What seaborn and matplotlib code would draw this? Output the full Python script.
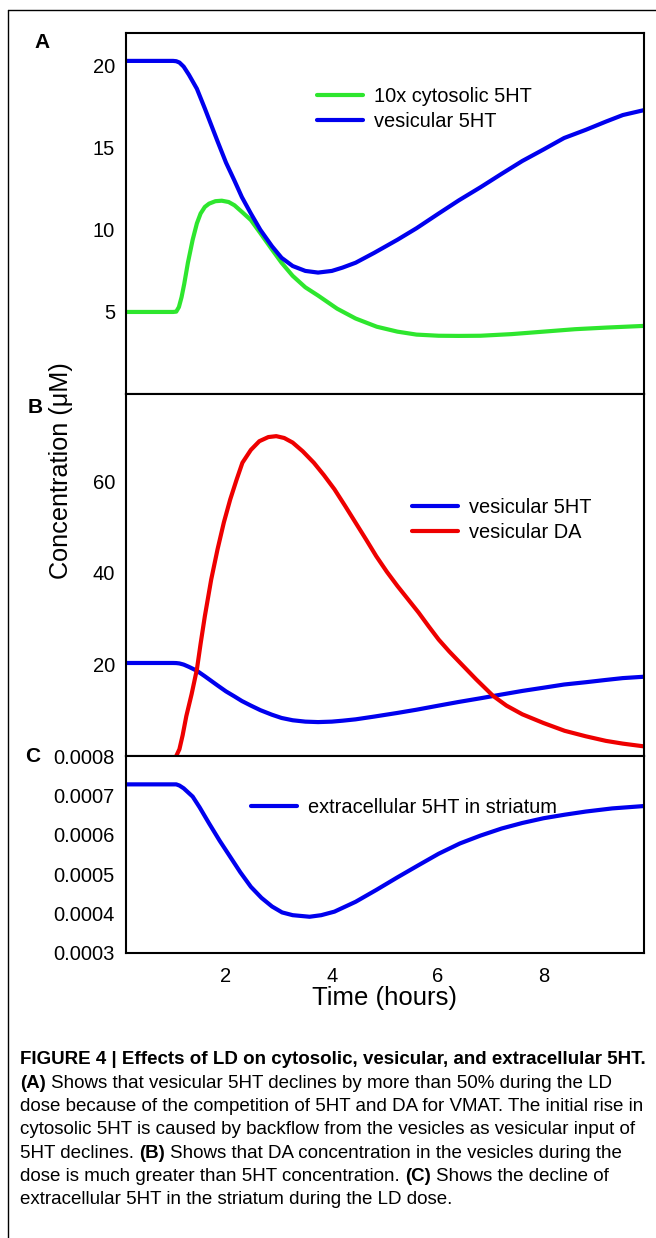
import numpy as np
import pandas as pd
import seaborn as sns
import matplotlib.pyplot as plt
from matplotlib.lines import Line2D
from matplotlib.ticker import FuncFormatter

# --- data -------------------------------------------------------------------
# vesicular 5HT (uM), used in panels A and B
ves_x = [0.1, 0.5, 1.0, 1.06, 1.12, 1.2, 1.3, 1.45, 1.6, 1.84, 2.0, 2.16, 2.3,
         2.47, 2.65, 2.87, 3.05, 3.26, 3.5, 3.74, 4.0, 4.2, 4.45, 4.8, 5.24,
         5.6, 6.02, 6.4, 6.81, 7.2, 7.6, 8.0, 8.39, 8.8, 9.18, 9.5, 9.9]
ves_5ht = [20.3, 20.3, 20.3, 20.28, 20.2, 19.95, 19.45, 18.6, 17.4, 15.4,
           14.1, 13.0, 12.0, 11.0, 10.0, 9.0, 8.3, 7.8, 7.5, 7.4, 7.5, 7.7,
           8.0, 8.6, 9.4, 10.1, 11.0, 11.8, 12.6, 13.4, 14.2, 14.9, 15.6, 16.1,
           16.6, 17.0, 17.3]

# 10x cytosolic 5HT
cyt_x = [0.1, 1.0, 1.06, 1.11, 1.16, 1.21, 1.28, 1.37, 1.45, 1.52, 1.6, 1.68,
         1.8, 1.92, 2.05, 2.16, 2.3, 2.47, 2.65, 2.87, 3.05, 3.26, 3.5, 3.74,
         4.1, 4.45, 4.85, 5.24, 5.6, 6.02, 6.4, 6.81, 7.4, 8.0, 8.6, 9.2, 9.9]
cyt_5ht = [5.0, 5.0, 5.02, 5.3, 5.9, 6.7, 8.0, 9.4, 10.4, 11.0, 11.4, 11.6,
           11.75, 11.78, 11.7, 11.5, 11.1, 10.6, 9.8, 8.8, 8.0, 7.2, 6.5, 6.0,
           5.2, 4.6, 4.1, 3.8, 3.62, 3.55, 3.54, 3.55, 3.65, 3.8, 3.95, 4.05,
           4.15]

# vesicular DA
da_x = [1.06, 1.12, 1.18, 1.25, 1.35, 1.45, 1.52, 1.6, 1.72, 1.84, 1.96, 2.08,
        2.2, 2.31, 2.47, 2.63, 2.8, 2.95, 3.1, 3.26, 3.45, 3.66, 3.85, 4.05,
        4.25, 4.45, 4.65, 4.84, 5.04, 5.24, 5.44, 5.64, 5.83, 6.02, 6.22,
        6.42, 6.73, 7.05, 7.3, 7.6, 8.0, 8.4, 8.8, 9.18, 9.5, 9.9]
ves_da = [0.0, 1.5, 4.5, 8.7, 13.5, 18.9, 24.5, 30.5, 38.5, 45.1, 51.0, 56.0,
          60.3, 64.0, 66.8, 68.7, 69.6, 69.8, 69.4, 68.4, 66.5, 64.0, 61.3,
          58.2, 54.6, 50.9, 47.2, 43.6, 40.2, 37.1, 34.2, 31.3, 28.3, 25.4,
          22.8, 20.4, 16.7, 13.1, 11.0, 9.1, 7.2, 5.5, 4.3, 3.3, 2.7, 2.1]

# extracellular 5HT in striatum
ext_x = [0.1, 1.0, 1.06, 1.12, 1.2, 1.37, 1.5, 1.68, 1.88, 2.08, 2.27, 2.47,
         2.67, 2.87, 3.06, 3.26, 3.58, 3.8, 4.05, 4.45, 4.84, 5.24, 5.64, 6.02,
         6.42, 6.81, 7.21, 7.6, 8.0, 8.4, 8.8, 9.3, 9.9]
ext_5ht = [0.000728, 0.000728, 0.000728, 0.000725, 0.000718, 0.000697,
           0.000670, 0.000629, 0.000585, 0.000544, 0.000505, 0.000468,
           0.000440, 0.000418, 0.000403, 0.000396, 0.000392, 0.000396,
           0.000405, 0.000430, 0.000460, 0.000492, 0.000523, 0.000552,
           0.000578, 0.000598, 0.000616, 0.000630, 0.000642, 0.000651,
           0.000659, 0.000667, 0.000673]

x_ticks = [2, 4, 6, 8]
a_ticks = [5, 10, 15, 20]
b_ticks = [20, 40, 60]
c_ticks = [0.0003, 0.0004, 0.0005, 0.0006, 0.0007, 0.0008]

caption = [
    [("FIGURE 4 | Effects of LD on cytosolic, vesicular, and extracellular 5HT.", True)],
    [("(A)", True), ("Shows that vesicular 5HT declines by more than 50% during the LD", False)],
    [("dose because of the competition of 5HT and DA for VMAT. The initial rise in", False)],
    [("cytosolic 5HT is caused by backflow from the vesicles as vesicular input of", False)],
    [("5HT declines.", False), ("(B)", True), ("Shows that DA concentration in the vesicles during the", False)],
    [("dose is much greater than 5HT concentration.", False), ("(C)", True), ("Shows the decline of", False)],
    [("extracellular 5HT in the striatum during the LD dose.", False)],
]

# --- style --------------------------------------------------------------------
sns.set_theme(style="white")
plt.rcParams['font.family'] = ['Liberation Sans', 'DejaVu Sans']
plt.rcParams['text.color'] = 'black'
plt.rcParams['axes.labelcolor'] = 'black'
plt.rcParams['xtick.color'] = 'black'
plt.rcParams['ytick.color'] = 'black'

BLUE = '#0000ee'
GREEN = '#2ee62e'
RED = '#ee0000'
W, H = 656, 1238

fig = plt.figure(figsize=(W / 100, H / 100), dpi=100)


def box(top, bottom):
    return [126 / W, 1 - bottom / H, 518 / W, (bottom - top) / H]


ax_a = fig.add_axes(box(33, 394))
ax_b = fig.add_axes(box(394, 756))
ax_c = fig.add_axes(box(756, 953))

sns.lineplot(x=cyt_x, y=cyt_5ht, ax=ax_a, color=GREEN, lw=3,
             label="10x cytosolic 5HT")
sns.lineplot(x=ves_x, y=ves_5ht, ax=ax_a, color=BLUE, lw=3,
             label="vesicular 5HT")
sns.lineplot(x=ves_x, y=ves_5ht, ax=ax_b, color=BLUE, lw=3,
             label="vesicular 5HT")
sns.lineplot(x=da_x, y=ves_da, ax=ax_b, color=RED, lw=3,
             label="vesicular DA")
sns.lineplot(x=ext_x, y=ext_5ht, ax=ax_c, color=BLUE, lw=3,
             label="extracellular 5HT in striatum")

ax_a.set_ylim(0, 22)
ax_a.set_yticks(a_ticks)
ax_b.set_ylim(0, 79)
ax_b.set_yticks(b_ticks)
ax_c.set_ylim(0.0003, 0.0008)
ax_c.set_yticks(c_ticks)
ax_c.yaxis.set_major_formatter(FuncFormatter(lambda v, p: f"{v:.4f}"))

legend_pos = {ax_a: (0.369, 0.85), ax_b: (0.552, 0.712), ax_c: (0.241, 0.787)}
for ax in (ax_a, ax_b, ax_c):
    ax.set_xlim(0.11, 9.9)
    ax.set_xticks(x_ticks)
    ax.tick_params(direction='in', length=5, width=1.3, labelsize=14.5, pad=8)
    for s in ax.spines.values():
        s.set_color('black')
        s.set_linewidth(1.5)
    ax.legend(loc='upper left', bbox_to_anchor=legend_pos[ax], frameon=False,
              fontsize=14.4, handlelength=2.3, handletextpad=0.55,
              borderaxespad=0, borderpad=0, labelspacing=0.3)
    ax.set_xlabel("")
    ax.set_ylabel("")
ax_a.tick_params(labelbottom=False)
ax_b.tick_params(labelbottom=False)
ax_c.tick_params(axis='x', pad=10)
ax_c.set_xlabel("Time (hours)", fontsize=18.5, labelpad=0)

fig.text(61 / W, 1 - 471 / H, "Concentration (\u03bcM)", rotation=90,
         fontsize=18.2, ha='center', va='center')
for lab, (px, py) in zip("ABC", [(42, 43), (35, 408), (33, 756)]):
    fig.text(px / W, 1 - py / H, lab, fontsize=15, fontweight='bold',
             ha='center', va='center')

# outer frame (top and left only)
fig.add_artist(Line2D([8 / W, 1], [1 - 9.5 / H] * 2, transform=fig.transFigure,
                      color='black', lw=1))
fig.add_artist(Line2D([8 / W] * 2, [0, 1 - 9.5 / H], transform=fig.transFigure,
                      color='black', lw=1))

# caption, built run by run so bold pieces sit inline
cap_font = ['Liberation Sans']
cap_size = 13.5
renderer = fig.canvas.get_renderer()
probe1 = fig.text(0, 0, "x x", fontsize=cap_size, family=cap_font)
probe2 = fig.text(0, 0, "xx", fontsize=cap_size, family=cap_font)
space = (probe1.get_window_extent(renderer).width
         - probe2.get_window_extent(renderer).width)
probe1.remove()
probe2.remove()

y0, step = 1060, 23.3
for i, runs in enumerate(caption):
    x = 20
    for text, bold in runs:
        t = fig.text(x / W, 1 - (y0 + i * step) / H, text, fontsize=cap_size,
                     family=cap_font, fontweight='bold' if bold else 'normal',
                     ha='left', va='center')
        x += t.get_window_extent(renderer).width + space

fig.savefig("out.png", dpi=100)
